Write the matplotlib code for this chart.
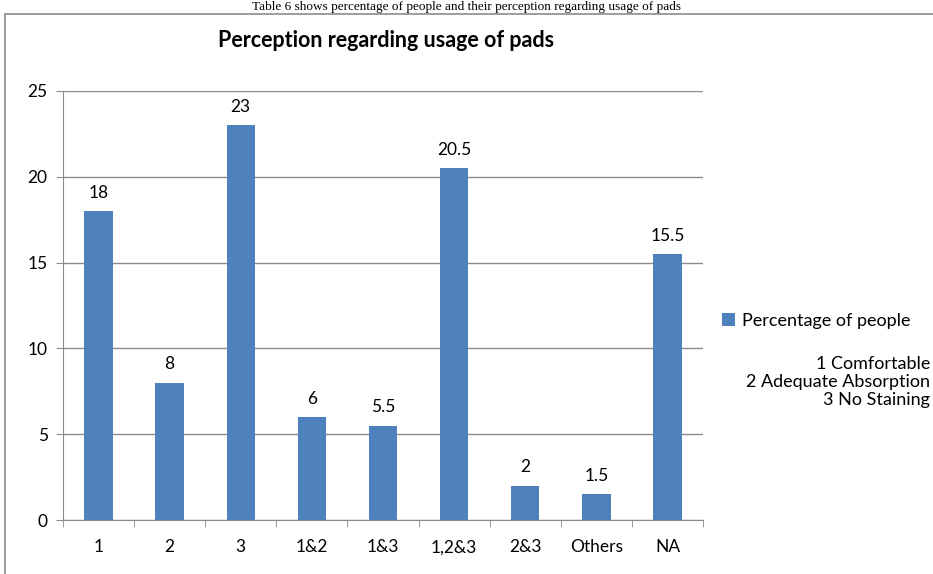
import matplotlib.pyplot as plt
from matplotlib.patches import Rectangle

categories = ["1", "2", "3", "1&2", "1&3", "1,2&3", "2&3", "Others", "NA"]
values = [18, 8, 23, 6, 5.5, 20.5, 2, 1.5, 15.5]
value_labels = ["18", "8", "23", "6", "5.5", "20.5", "2", "1.5", "15.5"]
notes = ["1 Comfortable", "2 Adequate Absorption", "3 No Staining"]

plt.rcParams['font.family'] = ['Lato', 'DejaVu Sans']

fig = plt.figure(figsize=(9.33, 5.74), dpi=100)
ax = fig.add_axes([0.0675, 0.094, 0.686, 0.7475])

x = range(len(categories))
ax.bar(x, values, width=0.4, color="#4F81BD", label="Percentage of people", zorder=3)
for i, v in enumerate(values):
    ax.text(i, v + 0.6, value_labels[i], ha="center", va="bottom", fontsize=12.5)

ax.set_xlim(-0.5, len(categories) - 0.5)
ax.set_ylim(0, 25)
ax.set_yticks([0, 5, 10, 15, 20, 25])
ax.yaxis.grid(True, color="#8c8c8c", linewidth=1, zorder=0)
ax.set_xticks(list(x))
ax.set_xticklabels(categories)
ax.set_xticks([i - 0.5 for i in range(len(categories) + 1)], minor=True)
ax.tick_params(axis="x", which="major", length=0, pad=14, labelsize=12.5)
ax.tick_params(axis="x", which="minor", length=5, color="#8c8c8c", direction="out")
ax.tick_params(axis="y", length=5, color="#8c8c8c", labelsize=12.5, pad=6)
for s in ["top", "right"]:
    ax.spines[s].set_visible(False)
ax.spines["left"].set_color("#8c8c8c")
ax.spines["bottom"].set_color("#8c8c8c")

ax.set_title("Perception regarding usage of pads", fontsize=15.5, fontweight="bold", pad=32, x=0.505)

ax.legend(loc="center left", bbox_to_anchor=(1.005, 0.465), frameon=False, fontsize=13,
          handlelength=0.7, handleheight=0.7, handletextpad=0.4)

fig.text(0.997, 0.335, "\n".join(notes), ha="right", va="center", fontsize=13, linespacing=1.15)

# frame around chart
fig.patches.append(Rectangle((5 / 933, -0.1), 1.2, (574 - 14) / 574 + 0.1, transform=fig.transFigure,
                             fill=False, edgecolor="#8c8c8c", linewidth=1.2))

# caption line above the chart
fig.text(0.5, 0.999, "Table 6 shows percentage of people and their perception regarding usage of pads",
         ha="center", va="top", fontsize=9.5, family="Liberation Serif")

fig.savefig("out.png", dpi=100)
